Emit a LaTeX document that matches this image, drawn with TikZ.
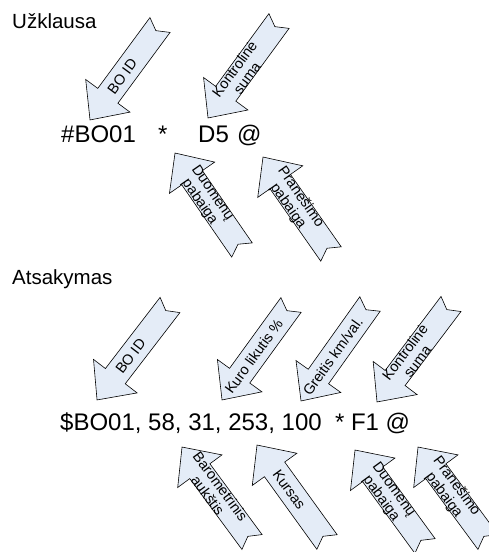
\documentclass[tikz,border=0pt]{standalone}
\usepackage{fontspec}
\setmainfont{Liberation Sans}
\usetikzlibrary{calc}
\definecolor{arrowfill}{RGB}{228,236,247}
\tikzset{
  arrowshape/.style={draw=black, line width=0.6pt, fill=arrowfill, line join=miter},
  arrowtext/.style={inner sep=0pt, align=center, font=\fontsize{14.5}{15.5}\selectfont},
  titletext/.style={inner sep=0pt, anchor=base west, font=\fontsize{20.5}{24}\selectfont},
  codetext/.style={inner sep=0pt, anchor=base west, font=\fontsize{24}{28}\selectfont},
}
% name, tail x, tail y, tip x, tip y (image coordinates), text
\newcommand{\notcharrow}[6]{%
  \pgfmathsetmacro\ax{#2}\pgfmathsetmacro\ay{552-#3}%
  \pgfmathsetmacro\bx{#4}\pgfmathsetmacro\by{552-#5}%
  \pgfmathsetmacro\ang{atan2(\by-\ay,\bx-\ax)}%
  \pgfmathsetmacro\len{veclen(\bx-\ax,\by-\ay)}%
  \pgfmathsetmacro\tang{\ang+180}%
  \begin{scope}[shift={(\ax,\ay)}, rotate=\ang]
    \draw[arrowshape] (0,12.5) -- (\len-30,12.5) -- (\len-30,27.5) -- (\len,0)
      -- (\len-30,-27.5) -- (\len-30,-12.5) -- (0,-12.5) -- (7,0) -- cycle;
    \node[arrowtext, rotate=\tang] (#1) at (0.54*\len,0) {#6};
  \end{scope}
}
\begin{document}
\begin{tikzpicture}[x=1pt,y=1pt]
\useasboundingbox (0,0) rectangle (489,552);
% Request
\node[titletext] (t1) at (12,552-29) {Užklausa};
\notcharrow{a1}{160}{25}{90}{120}{BO ID}
\notcharrow{a2}{279}{21}{208}{118}{Kontrolinė\\suma}
\node[codetext] (c1) at (61,552-143) {\#BO01};
\node[codetext] (c2) at (158,552-143) {*};
\node[codetext] (c3) at (198,552-143) {D5};
\node[codetext] (c4) at (237,552-143) {@};
\notcharrow{a3}{242}{250}{175}{153}{Duomenų\\pabaiga}
\notcharrow{a4}{331}{254}{263}{157}{Pranešimo\\pabaiga}
% Response
\node[titletext] (t2) at (12,552-285) {Atsakymas};
\notcharrow{b1}{170}{305}{97}{400}{BO ID}
\notcharrow{b2}{291}{305}{222}{400}{Kuro likutis \%}
\notcharrow{b3}{370}{304}{301}{401}{Greitis km/val.}
\notcharrow{b4}{451}{304}{377}{402}{Kontrolinė\\suma}
\node[codetext] (c5) at (60,552-431) {\$BO01, 58, 31, 253, 100\ \ * F1 @};
\notcharrow{d1}{252}{542}{182}{447}{Barometrinis\\aukštis}
\notcharrow{d2}{327}{542}{257}{445}{Kursas}
\notcharrow{d3}{425}{546}{355}{450}{Duomenų\\pabaiga}
\notcharrow{d4}{488}{542}{418}{447}{Pranešimo\\pabaiga}
\end{tikzpicture}
\end{document}
